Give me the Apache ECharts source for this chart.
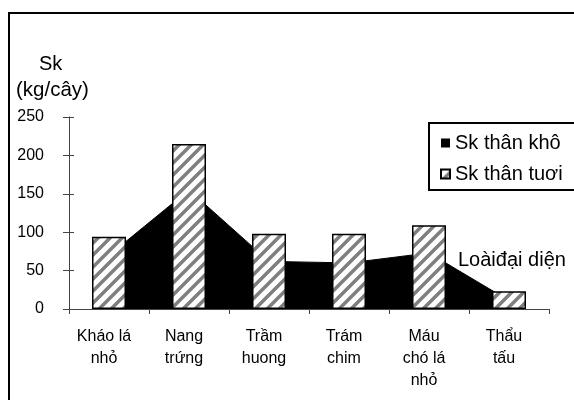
<!DOCTYPE html>
<html>
<head>
<meta charset="utf-8">
<script src="https://cdn.jsdelivr.net/npm/echarts@6/dist/echarts.min.js"></script>
<style>
  html, body { margin: 0; padding: 0; background: #fff; }
  #chart { width: 574px; height: 400px; }
</style>
</head>
<body>
<div id="chart"></div>
<script>
// Species (x categories), biomass per tree in kg
const categories = ['Kháo lá\nnhỏ', 'Nang\ntrứng', 'Trầm\nhuong', 'Trám\nchim', 'Máu\nchó lá\nnhỏ', 'Thẩu\ntấu'];
const dryMass = [70, 155, 62, 60, 73, 11];
const freshMass = [94, 215, 98, 98, 109, 23];
const seriesNames = ['Sk thân khô', 'Sk thân tuơi'];
const yMin = 0, yMax = 250, yStep = 50;

const FONT = 'Liberation Sans, Arial, sans-serif';

// Diagonal hatch tile for the fresh-mass bars
function hatchTile(size, color, width) {
  const c = document.createElement('canvas');
  c.width = size; c.height = size;
  const g = c.getContext('2d');
  g.fillStyle = '#fff';
  g.fillRect(0, 0, size, size);
  g.strokeStyle = color;
  g.lineWidth = width;
  g.beginPath();
  g.moveTo(0, size); g.lineTo(size, 0);
  g.moveTo(-size / 2, size / 2); g.lineTo(size / 2, -size / 2);
  g.moveTo(size / 2, size * 1.5); g.lineTo(size * 1.5, size / 2);
  g.stroke();
  return c;
}

const chart = echarts.init(document.getElementById('chart'), null, { renderer: 'canvas' });

chart.setOption({
  animation: false,
  backgroundColor: '#fff',
  textStyle: { fontFamily: FONT },
  grid: { left: 69, right: 25, top: 117, bottom: 91, containLabel: false },
  legend: {
    orient: 'vertical',
    left: 429,
    top: 123,
    padding: [10, 30, 6, 11],
    itemWidth: 9,
    itemHeight: 9,
    itemGap: 11,
    borderColor: '#000',
    borderWidth: 2,
    backgroundColor: '#fff',
    selectedMode: false,
    textStyle: { fontSize: 20, color: '#000', fontFamily: FONT, lineHeight: 20 },
    data: [
      { name: seriesNames[0], icon: 'rect' },
      { name: seriesNames[1], icon: 'rect' }
    ]
  },
  xAxis: {
    type: 'category',
    data: categories,
    boundaryGap: true,
    axisLine: { show: true, lineStyle: { color: '#444', width: 1 } },
    axisTick: { show: true, length: 5, lineStyle: { color: '#444' } },
    axisLabel: {
      interval: 0, fontSize: 16, lineHeight: 22, margin: 17,
      padding: [0, 10, 0, 0],
      color: '#000', fontFamily: FONT
    },
    splitLine: { show: false }
  },
  yAxis: [
    {
      type: 'value', min: yMin, max: yMax, interval: yStep,
      axisLine: { show: true, lineStyle: { color: '#444', width: 1 } },
      axisTick: { show: true, length: 6, lineStyle: { color: '#444' } },
      axisLabel: { margin: 25, fontSize: 16, color: '#000', fontFamily: FONT },
      splitLine: { show: false }
    },
    {
      // inner half of the cross tick marks
      type: 'value', min: yMin, max: yMax, interval: yStep, position: 'left',
      axisLine: { show: false },
      axisTick: { show: true, inside: true, length: 5, lineStyle: { color: '#444' } },
      axisLabel: { show: false },
      splitLine: { show: false }
    }
  ],
  graphic: [
    {
      type: 'rect', silent: true, z: 0,
      shape: { x: 9, y: 13, width: 700, height: 500 },
      style: { fill: 'none', stroke: '#000', lineWidth: 2 }
    },
    {
      type: 'text', left: 39, top: 54,
      style: { text: 'Sk', fontSize: 20, fontFamily: FONT, fill: '#000' }
    },
    {
      type: 'text', left: 16, top: 80,
      style: { text: '(kg/cây)', fontSize: 20.5, fontFamily: FONT, fill: '#000' }
    },
    {
      type: 'text', left: 458, top: 250,
      style: { text: 'Loàiđại diện', fontSize: 20, fontFamily: FONT, fill: '#000' }
    }
  ],
  series: [
    {
      name: seriesNames[0],
      type: 'line',
      data: dryMass,
      symbol: 'none',
      z: 1,
      itemStyle: { color: '#000' },
      lineStyle: { color: '#000', width: 1 },
      areaStyle: { color: '#000', opacity: 1 }
    },
    {
      name: seriesNames[1],
      type: 'bar',
      data: freshMass,
      barWidth: 34,
      z: 3,
      itemStyle: {
        color: { image: hatchTile(12, '#7f7f7f', 3.5), repeat: 'repeat' },
        borderColor: '#000',
        borderWidth: 1.5
      }
    }
  ]
});
</script>
</body>
</html>
